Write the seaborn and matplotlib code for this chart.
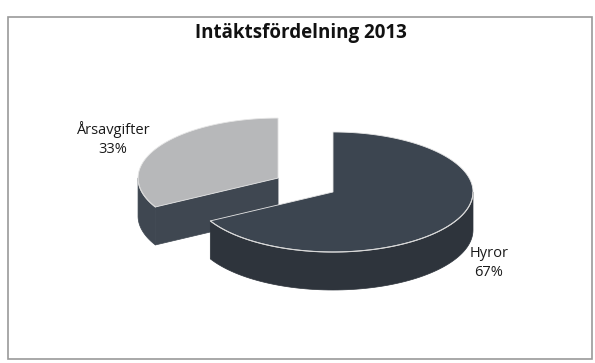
import numpy as np
import matplotlib
matplotlib.use("Agg")
import matplotlib.pyplot as plt
from matplotlib.patches import Polygon, Rectangle
import seaborn as sns

# ---- data ----
categories = ["Hyror", "Årsavgifter"]
shares = [67, 33]
pct_labels = ["67%", "33%"]
explode = [0.0, 0.456]
title = "Intäktsfördelning 2013"

# ---- style ----
sns.set_theme(style="white")
plt.rcParams['font.family'] = ['Open Sans', 'DejaVu Sans']
top_colors = ["#3c4550", "#b7b8ba"]
side_colors = ["#2e343c", "#3f4751"]

W, H = 595, 363
fig = plt.figure(figsize=(W / 100, H / 100), dpi=100)
ax = fig.add_axes([0, 0, 1, 1])
ax.set_xlim(0, W)
ax.set_ylim(H, 0)
ax.axis("off")

# frame
ax.add_patch(Rectangle((8, 17), 584, 342, fill=False, ec="#9a9a9a", lw=1.2))

cx, cy, rx, ry, depth = 333, 192, 140, 60, 38


def pt(c, a, dy=0):
    r = np.radians(a)
    return (c[0] + rx * np.cos(r), c[1] - ry * np.sin(r) + dy)


# slices: start at 12 o'clock going clockwise
total = sum(shares)
slices = []
start = 90.0
for i, s in enumerate(shares):
    span = 360.0 * s / total
    a1 = start              # ccw end
    a0 = start - span       # ccw start
    start = a0
    mid = (a0 + a1) / 2
    m = np.radians(mid)
    c = (cx + explode[i] * rx * np.cos(m), cy - explode[i] * ry * np.sin(m))
    slices.append(dict(i=i, a0=a0, a1=a1, mid=mid, c=c))

slices.sort(key=lambda d: -np.sin(np.radians(d["mid"])))

for d in slices:
    i, a0, a1, c = d["i"], d["a0"], d["a1"], d["c"]
    # cut faces
    for a, nrm in ((a0, a0 - 90), (a1, a1 + 90)):
        if np.sin(np.radians(nrm)) < -1e-6:
            p = pt(c, a)
            poly = [c, p, (p[0], p[1] + depth), (c[0], c[1] + depth)]
            ax.add_patch(Polygon(poly, closed=True, fc=side_colors[i], ec=side_colors[i], lw=0.5))
    # outer walls (front half 180..360)
    b0 = a0 % 360
    b1 = b0 + (a1 - a0)
    for lo, hi in ((180, 360), (540, 720)):
        s0, s1 = max(b0, lo), min(b1, hi)
        if s1 > s0:
            ts = np.linspace(s0, s1, 80)
            top = [pt(c, t) for t in ts]
            bot = [pt(c, t, depth) for t in ts[::-1]]
            ax.add_patch(Polygon(top + bot, closed=True, fc=side_colors[i], ec=side_colors[i], lw=0.5))
            xs, ys = zip(*top)
            ax.plot(xs, ys, color="#d8d8d8", lw=0.8, solid_capstyle="round")
    # top surface
    ts = np.linspace(a0, a1, 160)
    poly = [c] + [pt(c, t) for t in ts]
    ax.add_patch(Polygon(poly, closed=True, fc=top_colors[i], ec="#e6e6e6", lw=0.6))

# labels
ax.text(301, 33, title, ha="center", va="center", fontsize=13.5, fontweight="bold", color="#111111")
label_pos = {"Hyror": (489, 263), "Årsavgifter": (113, 139)}
for cat, pl in zip(categories, pct_labels):
    x, y = label_pos[cat]
    ax.text(x, y, f"{cat}\n{pl}", ha="center", va="center", fontsize=10.5,
            color="#1a1a1a", linespacing=1.45)

fig.savefig("out.png", dpi=100)
